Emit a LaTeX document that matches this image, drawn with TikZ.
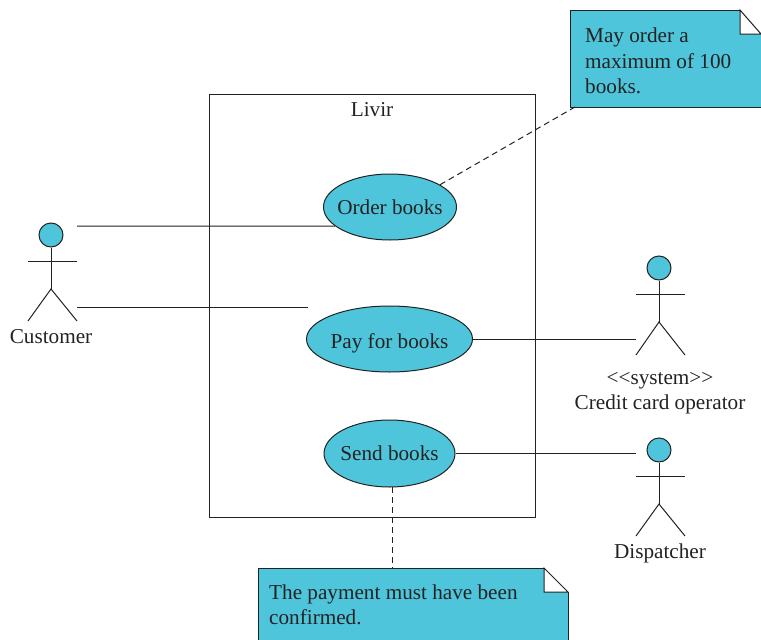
\documentclass[tikz,border=0pt]{standalone}
\usepackage{fontspec}
\setmainfont{Liberation Serif}
\usetikzlibrary{shapes.geometric}
\definecolor{uc}{HTML}{4FC5DB}
\definecolor{ink}{HTML}{222222}
\newcommand{\uctext}[2]{\makebox[0pt]{\raisebox{#1}[0pt][0pt]{#2}}}
\tikzset{
  line/.style={draw=ink,line width=1pt},
  dashline/.style={draw=ink,line width=1pt,dash pattern=on 6pt off 4pt},
  usecase/.style={ellipse,draw=ink,line width=1pt,fill=uc,inner sep=0pt,font=\fontsize{21.2}{25}\selectfont,text=ink},
  head/.style={circle,draw=ink,line width=1pt,fill=uc,minimum size=24pt,inner sep=0pt},
  lbl/.style={inner sep=0pt,font=\fontsize{21.2}{25.5}\selectfont,text=ink,align=center},
  notearea/.style={inner sep=0pt,anchor=north west},
  notetext/.style={inner sep=0pt,anchor=west,font=\fontsize{21.2}{25.5}\selectfont,text=ink,align=left},
  fold/.style={draw=ink,line width=1pt,fill=white,line join=miter},
}
\begin{document}
\begin{tikzpicture}[x=1pt,y=-1pt]
\useasboundingbox (0,0) rectangle (761,640);
% system box
\node[draw=ink,line width=1pt,minimum width=326pt,minimum height=423pt,inner sep=0pt,anchor=north west] (sys) at (209,94) {};
\node[lbl] (systitle) at (372,110) {Livir};
% use cases
\node[usecase,minimum width=133pt,minimum height=66pt] (order) at (390,207) {\uctext{-7pt}{Order books}};
\node[usecase,minimum width=166pt,minimum height=66pt] (pay) at (389.5,339) {\uctext{-9pt}{Pay for books}};
\node[usecase,minimum width=131pt,minimum height=67pt] (send) at (389.5,453.5) {\uctext{-6.5pt}{Send books}};
% actors
\node[head] (cust) at (51,235) {};
\draw[line] (cust.south) -- (51,289) coordinate (custhip);
\draw[line] (28,261) -- (77,261);
\draw[line] (28,321) -- (custhip) -- (77,321);
\node[lbl] (custlabel) at (51,337) {Customer};
\node[head] (card) at (659,268) {};
\draw[line] (card.south) -- (659,322) coordinate (cardhip);
\draw[line] (636,294) -- (685,294);
\draw[line] (636,355) -- (cardhip) -- (685,355);
\node[lbl] (cardlabel) at (660,393) {{<}{<}system{>}{>}\\Credit card operator};
\node[head] (disp) at (659,450) {};
\draw[line] (disp.south) -- (659,504) coordinate (disphip);
\draw[line] (636,476) -- (685,476);
\draw[line] (636,536) -- (disphip) -- (685,536);
\node[lbl] (displabel) at (660,553.5) {Dispatcher};
% notes
\node[notearea,minimum width=191pt,minimum height=97pt] (noteA) at (570,10) {};
\fill[uc] (noteA.north west) -- (740,10) -- (761,34) -- (761,107) -- (noteA.south west) -- cycle;
\draw[line] (noteA.south east) -- (noteA.south west) -- (noteA.north west) -- (740,10);
\draw[fold] (740,10) -- (761,34) -- (740,34) -- cycle;
\node[notetext] (noteAtext) at (585,61) {May order a\\maximum of 100\\books.};
\node[notearea,minimum width=310pt,minimum height=72pt] (noteB) at (258,568) {};
\fill[uc] (noteB.north west) -- (544,568) -- (568,592) -- (568,640) -- (noteB.south west) -- cycle;
\draw[line] (noteB.south west) -- (noteB.north west) -- (544,568);
\draw[fold] (544,568) -- (568,592) -- (544,592) -- cycle;
\draw[line] (568,592) -- (568,640);
\node[notetext] (noteBtext) at (269,605) {The payment must have been\\confirmed.};
% connectors
\coordinate (c1) at (77,226);
\coordinate (c2) at (77,307);
\coordinate (c2end) at (308,307);
\coordinate (c3) at (636,339);
\coordinate (c4) at (636,453.5);
\coordinate (nA) at (575,107);
\coordinate (nB) at (392,568);
\coordinate (sB) at (392,487);
\draw[line] (c1) -- (order.199);
\draw[line] (c2) -- (c2end);
\draw[line] (pay.east) -- (c3);
\draw[line] (send.east) -- (c4);
\draw[dashline] (order.24) -- (nA);
\draw[dashline] (sB) -- (nB);
\end{tikzpicture}
\end{document}
